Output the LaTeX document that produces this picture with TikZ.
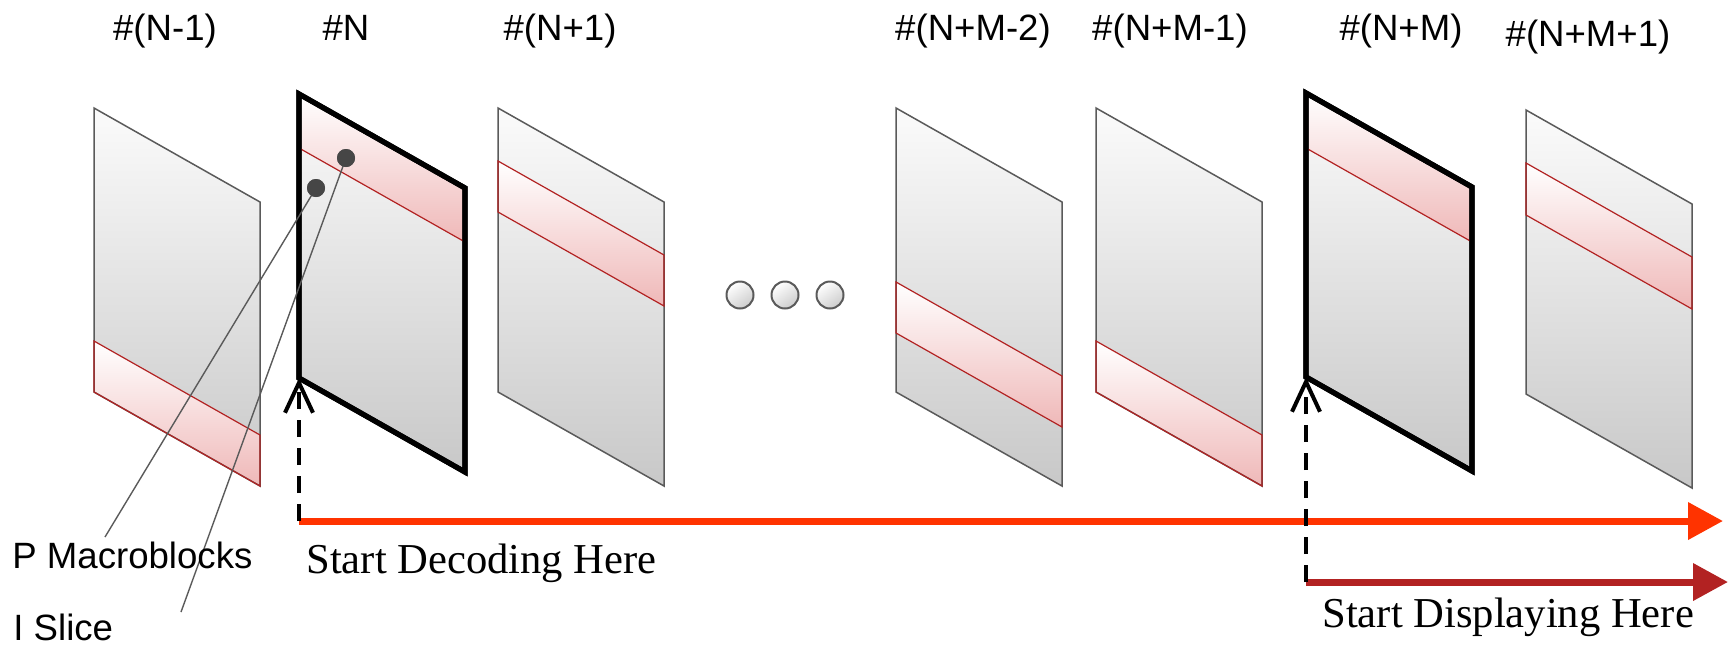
\documentclass[tikz,border=0pt]{standalone}
\usepackage{fontspec}
\setmainfont{Liberation Serif}
\newfontfamily\arialf{Liberation Sans}
\usetikzlibrary{arrows.meta}
\definecolor{frtop}{HTML}{FBFBFB}
\definecolor{frbot}{HTML}{C8C8C8}
\definecolor{bandred}{HTML}{EFB8B8}
\definecolor{bandline}{HTML}{B22222}
\definecolor{decodecol}{HTML}{FF3300}
\definecolor{displaycol}{HTML}{B22222}
\definecolor{edgegray}{HTML}{5A5A5A}
\definecolor{dotgray}{HTML}{464646}
\tikzset{
  plainedge/.style={draw=edgegray, line width=0.75pt},
  boldedge/.style={draw=black, line width=2.6pt, line join=miter},
  bandedge/.style={draw=bandline, line width=0.6pt},
  leader/.style={draw=edgegray, line width=0.7pt},
  mbdot/.style={circle, fill=dotgray, inner sep=0pt, minimum size=9pt},
  elldot/.style={circle, draw=edgegray, line width=1pt, inner sep=0pt, minimum size=13.5pt,
    top color=white, bottom color=black!20, shading angle=35},
  framelabel/.style={font=\arialf\fontsize{18.3}{20}\selectfont, anchor=base, inner sep=0pt},
  sidelabel/.style={font=\arialf\fontsize{18.3}{20}\selectfont, anchor=base west, inner sep=0pt},
  timelabel/.style={font=\fontsize{21.3}{24}\selectfont, anchor=base west, inner sep=0pt},
  decodearrow/.style={draw=decodecol, line width=3.5pt, -{Triangle[length=17.5pt, width=18pt]}},
  displayarrow/.style={draw=displaycol, line width=3.5pt, -{Triangle[length=17.5pt, width=18pt]}},
  startarrow/.style={draw=black, line width=2pt, dash pattern=on 8.5pt off 5.5pt,
    -{Straight Barb[length=15pt, width=14pt, line width=2pt]}},
}
% #1 name, #2 left x, #3 top y, #4 band offset, #5 band height, #6 edge style
\newcommand\videoframe[6]{%
  \coordinate (#1-tl) at (#2,#3);
  \coordinate (#1-bl) at (#2,{#3+284});
  \shade[top color=frtop, bottom color=frbot] (#1-tl) -- ++(166,94) -- ++(0,284) -- ++(-166,-94) -- cycle;
  \shade[top color=white, bottom color=bandred] (#2,{#3+#4}) -- ++(166,94) -- ++(0,#5) -- ++(-166,-94) -- cycle;
  \draw[#6] (#1-tl) -- ++(166,94) -- ++(0,284) -- ++(-166,-94) -- cycle;
  \draw[bandedge] (#2,{#3+#4}) -- ++(166,94) -- ++(0,#5) -- ++(-166,-94) -- cycle;
}
\newcommand\frameborder[2]{%
  \draw[#2] (#1-tl) -- ++(166,94) -- ++(0,284) -- ++(-166,-94) -- cycle;
}
\begin{document}
\begin{tikzpicture}[x=0.5pt, y=-0.5pt]
\useasboundingbox (0,0) rectangle (1732,645);

% frames
\videoframe{fA}{94}{108}{233}{51}{plainedge}
\videoframe{fN}{299}{94}{0}{54}{boldedge}
\frameborder{fN}{boldedge}
\videoframe{fB}{498}{108}{53}{51}{plainedge}
\videoframe{fC}{896}{108}{174}{51}{plainedge}
\videoframe{fD}{1096}{108}{233}{51}{plainedge}
\videoframe{fM}{1306}{93}{0}{55}{boldedge}
\frameborder{fM}{boldedge}
\videoframe{fE}{1526}{110}{53}{52}{plainedge}

% frame labels
\node[framelabel] (lA) at (165,40) {\#(N-1)};
\node[framelabel] (lN) at (346,40) {\#N};
\node[framelabel] (lB) at (560,40) {\#(N+1)};
\node[framelabel] (lC) at (973,40) {\#(N+M-2)};
\node[framelabel] (lD) at (1170,40) {\#(N+M-1)};
\node[framelabel] (lM) at (1401,40) {\#(N+M)};
\node[framelabel] (lE) at (1588,46) {\#(N+M+1)};

% ellipsis
\node[elldot] (e1) at (740,295) {};
\node[elldot] (e2) at (785,295) {};
\node[elldot] (e3) at (830,295) {};

% macroblock dots and leaders
\coordinate (pEnd) at (105,537);
\coordinate (iEnd) at (181,612);
\node[mbdot] (d1) at (346,158) {};
\node[mbdot] (d2) at (316,188) {};
\draw[leader] (d2.center) -- (pEnd);
\draw[leader] (d1.center) -- (iEnd);
\node[mbdot] at (d1) {};
\node[mbdot] at (d2) {};

\node[sidelabel] (pmb) at (12,568) {P Macroblocks};
\node[sidelabel] (isl) at (13,640) {I Slice};

% time arrows
\coordinate (decStart) at (299,521);
\coordinate (decEnd) at (1723,521);
\coordinate (disStart) at (1306,582);
\coordinate (disEnd) at (1728,582);
\draw[decodearrow] (decStart) -- (decEnd);
\draw[displayarrow] (disStart) -- (disEnd);
\draw[startarrow] (decStart) -- (fN-bl);
\draw[startarrow] (disStart) -- (fM-bl);

\node[timelabel] (tdec) at (306,573) {Start Decoding Here};
\node[timelabel] (tdis) at (1322,627) {Start Displaying Here};
\end{tikzpicture}
\end{document}
